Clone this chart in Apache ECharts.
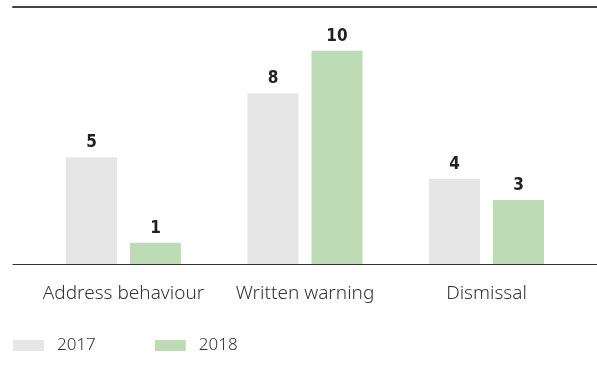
<!DOCTYPE html>
<html>
<head>
<meta charset="utf-8">
<script src="https://cdn.jsdelivr.net/npm/echarts@6/dist/echarts.min.js"></script>
<style>
  html, body { margin: 0; padding: 0; background: #fff; }
  #chart { width: 597px; height: 367px; }
</style>
</head>
<body>
<div id="chart"></div>
<script>
// chart data
var categories = ['Address behaviour', 'Written warning', 'Dismissal']
var seriesNames = ['2017', '2018']
var values2017 = [5, 8, 4]
var values2018 = [1, 10, 3]

var chart = echarts.init(document.getElementById('chart'))

var labelStyle = {
  show: true,
  position: 'top',
  distance: 6,
  color: '#222',
  fontFamily: 'DejaVu Sans Condensed',
  fontWeight: 'bold',
  fontSize: 17
}

chart.setOption({
  animation: false,
  legend: {
    data: seriesNames,
    left: 8,
    bottom: 8,
    itemWidth: 31,
    itemHeight: 11,
    itemGap: 59,
    icon: 'rect',
    textStyle: {
      color: '#333',
      fontFamily: 'Noto Sans',
      fontWeight: 300,
      fontSize: 17,
      padding: [0, 0, 0, 8]
    }
  },
  grid: [
    { left: 32.75, width: 544.5, top: 8, bottom: 103 },
    { left: 13, right: 0, top: 7, bottom: 103 }
  ],
  xAxis: [
    {
      type: 'category',
      data: categories,
      gridIndex: 0,
      axisLine: { show: false },
      axisTick: { show: false },
      axisLabel: {
        interval: 0,
        color: '#333',
        fontFamily: 'Noto Sans',
        fontWeight: 300,
        fontSize: 19,
        margin: 20
      }
    },
    {
      type: 'category',
      gridIndex: 1,
      position: 'bottom',
      axisLine: { show: true, lineStyle: { color: '#333', width: 1 } },
      axisTick: { show: false },
      axisLabel: { show: false }
    },
    {
      type: 'category',
      gridIndex: 1,
      position: 'top',
      axisLine: { show: true, lineStyle: { color: '#444', width: 2 } },
      axisTick: { show: false },
      axisLabel: { show: false }
    }
  ],
  yAxis: [
    {
      type: 'value',
      gridIndex: 0,
      min: 0,
      max: 12,
      show: false
    },
    {
      type: 'value',
      gridIndex: 1,
      show: false
    }
  ],
  series: [
    {
      name: '2017',
      type: 'bar',
      data: values2017,
      barWidth: 51,
      barGap: '25.5%',
      itemStyle: { color: '#e6e6e6' },
      label: labelStyle
    },
    {
      name: '2018',
      type: 'bar',
      data: values2018,
      barWidth: 51,
      barGap: '25.5%',
      itemStyle: { color: '#bddcb6' },
      label: labelStyle
    }
  ]
})
</script>
</body>
</html>
